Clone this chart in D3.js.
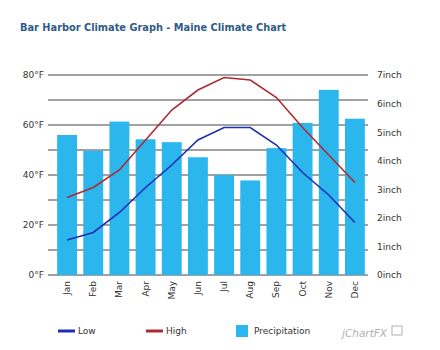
<!DOCTYPE html>
<html>
<head>
<meta charset="utf-8">
<script src="https://cdn.jsdelivr.net/npm/d3@7"></script>
<style>
  body { margin: 0; background: #fff; }
  text { font-family: "DejaVu Sans", Verdana, sans-serif; }
</style>
</head>
<body>
<svg id="chart"></svg>
<script>
const months = ["Jan","Feb","Mar","Apr","May","Jun","Jul","Aug","Sep","Oct","Nov","Dec"];
const lowF = [14, 17, 25, 35, 44, 54, 59, 59, 52, 41, 32, 21];
const highF = [31, 35, 42, 54, 66, 74, 79, 78, 71, 59, 48, 37];
const precipIn = [4.9, 4.35, 5.37, 4.75, 4.65, 4.12, 3.5, 3.31, 4.44, 5.32, 6.48, 5.47];
const tempTicks = [0, 20, 40, 60, 80];
const tempGrid = [0, 10, 20, 30, 40, 50, 60, 70, 80];
const precipTicks = [0, 1, 2, 3, 4, 5, 6, 7];

function makeChart() {
    let svg_width = 440, svg_height = 350;
    let left = 54, right = 368, top = 75, bottom = 275;

    let svg = d3.select('#chart')
        .attr('width', svg_width)
        .attr('height', svg_height);

    // title
    svg.append('text')
        .attr('x', 20).attr('y', 31)
        .attr('font-size', 9.8).attr('font-weight', 'bold')
        .attr('fill', '#2f5b88')
        .text('Bar Harbor Climate Graph - Maine Climate Chart');

    let x = d3.scaleBand()
        .domain(months)
        .range([left, right])
        .paddingInner(0.24).paddingOuter(0.12);

    let yTemp = d3.scaleLinear().domain([0, 80]).range([bottom, top]);
    let yPrecip = d3.scaleLinear().domain([0, 7]).range([bottom, top]);

    // gridlines
    svg.append('g').selectAll('line')
        .data(tempGrid).enter().append('line')
        .attr('x1', 48).attr('x2', right)
        .attr('y1', d => yTemp(d)).attr('y2', d => yTemp(d))
        .attr('stroke', '#444').attr('stroke-width', 1);

    // bars
    svg.append('g').selectAll('rect')
        .data(precipIn).enter().append('rect')
        .attr('x', (d, i) => x(months[i]))
        .attr('width', x.bandwidth())
        .attr('y', d => yPrecip(d))
        .attr('height', d => bottom - yPrecip(d))
        .attr('fill', '#2bb6ee');

    // left axis
    let leftAxis = d3.axisLeft(yTemp).tickValues(tempTicks)
        .tickFormat(d => d + '°F').tickSize(0).tickPadding(4);
    svg.append('g').attr('transform', `translate(48,0)`).call(leftAxis)
        .call(g => g.select('.domain').remove())
        .selectAll('text').attr('font-size', 9).attr('fill', '#333')
        .attr('font-family', '"DejaVu Sans", sans-serif');

    // right axis
    let rightAxis = d3.axisRight(yPrecip).tickValues(precipTicks)
        .tickFormat(d => d + 'inch').tickSize(0).tickPadding(9);
    svg.append('g').attr('transform', `translate(${right},0)`).call(rightAxis)
        .call(g => g.select('.domain').remove())
        .selectAll('text').attr('font-size', 9).attr('fill', '#333')
        .attr('font-family', '"DejaVu Sans", sans-serif');

    // month labels
    svg.append('g').selectAll('text')
        .data(months).enter().append('text')
        .attr('transform', d => `translate(${x(d) + x.bandwidth() / 2 + 3},${bottom + 6}) rotate(-90)`)
        .attr('text-anchor', 'end')
        .attr('font-size', 9).attr('fill', '#333')
        .text(d => d);

    let lineGen = d3.line()
        .x((d, i) => x(months[i]) + x.bandwidth() / 2);

    svg.append('path')
        .attr('fill', 'none').attr('stroke', '#1e2db4').attr('stroke-width', 1.6)
        .attr('d', lineGen.y(d => yTemp(d))(lowF));

    svg.append('path')
        .attr('fill', 'none').attr('stroke', '#ad2a33').attr('stroke-width', 1.6)
        .attr('d', lineGen.y(d => yTemp(d))(highF));

    // legend
    let legend = svg.append('g').attr('font-size', 9).attr('fill', '#333');
    legend.append('line').attr('x1', 58).attr('x2', 75).attr('y1', 331).attr('y2', 331)
        .attr('stroke', '#1e2db4').attr('stroke-width', 3);
    legend.append('text').attr('x', 78).attr('y', 334).text('Low');
    legend.append('line').attr('x1', 146).attr('x2', 163).attr('y1', 331).attr('y2', 331)
        .attr('stroke', '#ad2a33').attr('stroke-width', 3);
    legend.append('text').attr('x', 166).attr('y', 334).text('High');
    legend.append('rect').attr('x', 236).attr('y', 325).attr('width', 12).attr('height', 12)
        .attr('fill', '#2bb6ee');
    legend.append('text').attr('x', 254).attr('y', 334).text('Precipitation');
    legend.append('text').attr('x', 342).attr('y', 337)
        .attr('font-size', 10.5).attr('font-style', 'italic').attr('fill', '#b0b0b0')
        .text('jChartFX');
    legend.append('rect').attr('x', 392).attr('y', 326).attr('width', 10).attr('height', 9)
        .attr('fill', 'none').attr('stroke', '#b0b0b0').attr('stroke-width', 1);
}

makeChart();
</script>
</body>
</html>
